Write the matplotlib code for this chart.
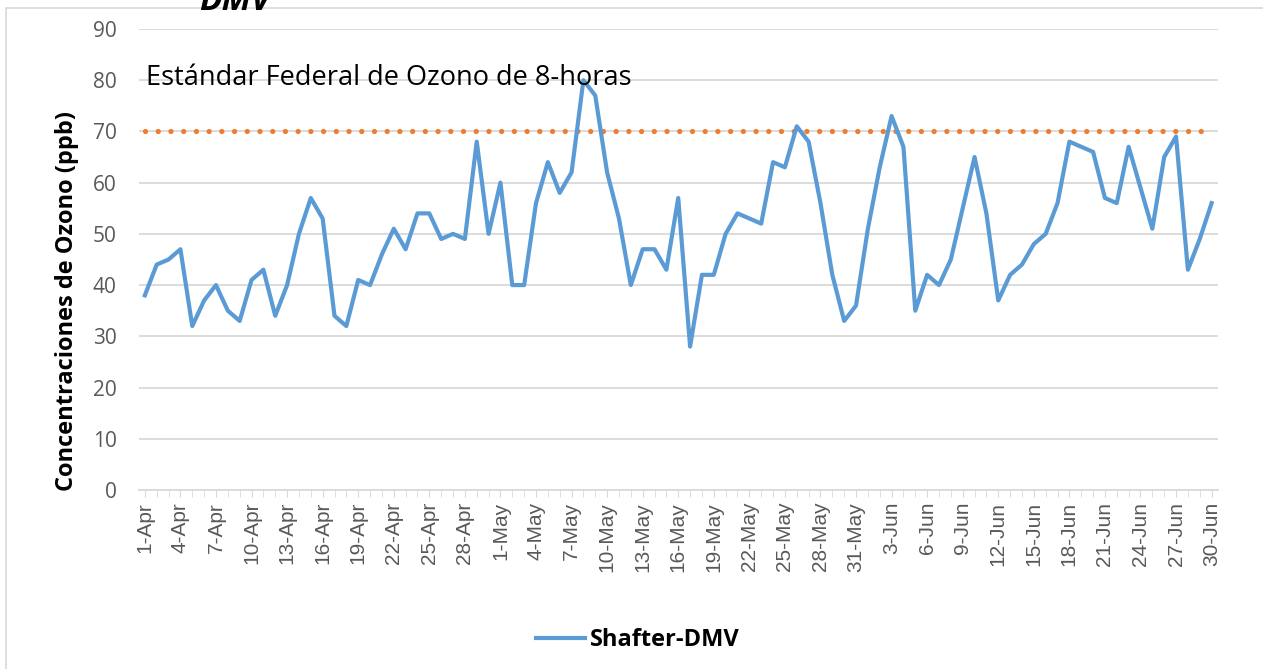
import numpy as np
import matplotlib.pyplot as plt
from matplotlib.patches import Rectangle

# fechas 1-Apr .. 30-Jun
months = ['Apr'] * 30 + ['May'] * 31 + ['Jun'] * 30
days = list(range(1, 31)) + list(range(1, 32)) + list(range(1, 31))
labels = [f'{d}-{m}' for d, m in zip(days, months)]

ozone = [38, 44, 45, 47, 32, 37, 40, 35, 33, 41,
         43, 34, 40, 50, 57, 53, 34, 32, 41, 40,
         46, 51, 47, 54, 54, 49, 50, 49, 68, 50,
         60, 40, 40, 56, 64, 58, 62, 80, 77, 62,
         53, 40, 47, 47, 43, 57, 28, 42, 42, 50,
         54, 53, 52, 64, 63, 71, 68, 56, 42, 33,
         36, 51, 63, 73, 67, 35, 42, 40, 45, 55,
         65, 54, 37, 42, 44, 48, 50, 56, 68, 67,
         66, 57, 56, 67, 59, 51, 65, 69, 43, 49,
         56]
standard = 70

plt.rcParams['font.family'] = ['Open Sans', 'DejaVu Sans']

fig = plt.figure(figsize=(12.63, 6.69), dpi=100)
ax = fig.add_axes([0.110, 0.2676, 0.854, 0.6891])

x = np.arange(len(ozone))
ax.plot(x, [standard] * len(ozone), color='#ed7d31', lw=3.8,
        linestyle=(0, (0.01, 2.4)), dash_capstyle='round', zorder=2)
ax.plot(x, ozone, color='#5b9bd5', lw=3, label='Shafter-DMV', zorder=3)

ax.set_xlim(-0.5, 90.5)
ax.set_ylim(0, 90)
ax.set_yticks(range(0, 91, 10))
ax.grid(axis='y', color='#d9d9d9', lw=1.3)
ax.set_axisbelow(True)
for s in ['top', 'right', 'left']:
    ax.spines[s].set_visible(False)
ax.spines['bottom'].set_color('#d9d9d9')
ax.spines['bottom'].set_linewidth(1.3)

ax.set_xticks(x[::3])
ax.set_xticklabels(labels[::3], rotation=90, family='Liberation Sans')
ax.set_xticks(x, minor=True)
ax.tick_params(axis='x', which='both', length=5, color='#d9d9d9',
               labelcolor='#595959', labelsize=15)
ax.tick_params(axis='y', length=0, labelcolor='#595959', labelsize=15, pad=16)

ax.set_ylabel('Concentraciones de Ozono (ppb)', fontsize=17, fontweight='bold',
              labelpad=10)
ax.yaxis.label.set_y(0.41)
ax.text(0.1, 80.5, 'Estándar Federal de Ozono de 8-horas', fontsize=19.5,
        va='center', ha='left')

# resto del titulo, cortado arriba
fig.text(0.186, 0.998, 'DMV', fontsize=24, fontweight='bold', style='italic',
         va='center', ha='center')

fig.legend(loc='center', bbox_to_anchor=(0.505, 0.043), frameon=False,
           prop={'weight': 'bold', 'size': 17}, handlelength=2.1,
           handletextpad=0.2)

fig.patches.append(Rectangle((6 / 1263, -0.01), 1.1, 1 - 8 / 669 + 0.01,
                             transform=fig.transFigure, fill=False,
                             edgecolor='#d9d9d9', lw=1.2))

fig.savefig('out.png', dpi=100)
